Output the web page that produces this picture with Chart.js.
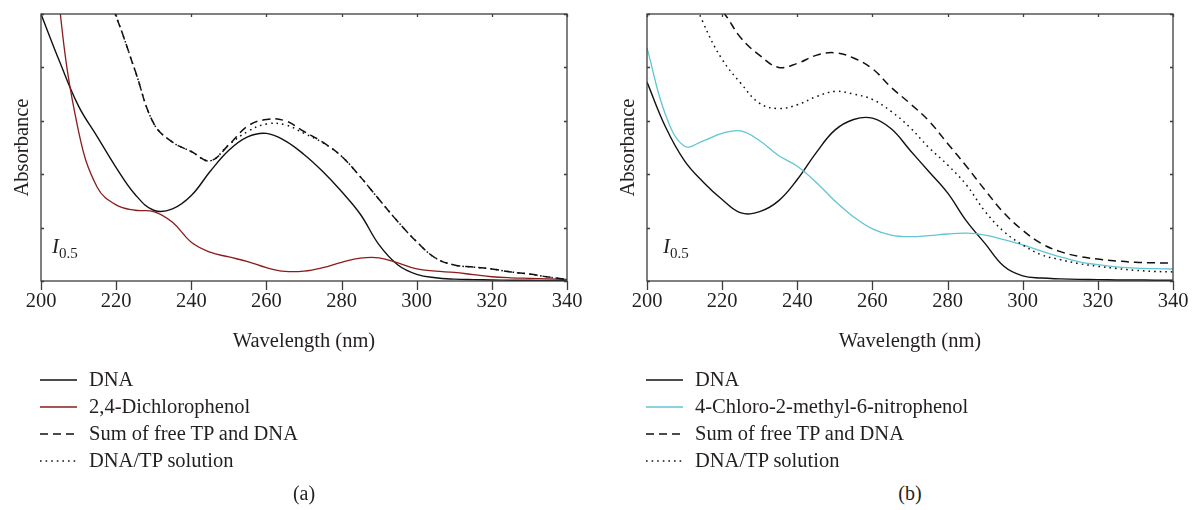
<!DOCTYPE html>
<html>
<head>
<meta charset="utf-8">
<script src="https://cdn.jsdelivr.net/npm/chart.js@4.4.1/dist/chart.umd.min.js"></script>
<style>
  body { margin: 0; background: #fff; width: 1192px; height: 510px; overflow: hidden; position: relative;
         font-family: "Liberation Serif", "DejaVu Serif", serif; color: #231f20; }
  .panel { position: absolute; top: 0; width: 600px; height: 354px; }
  .legend { position: absolute; top: 366px; font-size: 20.5px; }
  .legend .row { height: 27px; display: flex; align-items: center; white-space: nowrap; }
  .legend svg { width: 37px; height: 6px; margin-right: 12px; }
  .cap { position: absolute; top: 482px; font-size: 20px; transform: translateX(-50%); }
  .ilabel { position: absolute; top: 234px; font-size: 21px; font-style: italic; }
  .ilabel sub { font-style: normal; font-size: 15px; }
</style>
</head>
<body>
<div class="panel" style="left:0"><canvas id="chartA" width="600" height="354"></canvas></div>
<div class="panel" style="left:606px"><canvas id="chartB" width="600" height="354"></canvas></div>

<div class="ilabel" style="left:52px"><i>I</i><sub>0.5</sub></div>
<div class="ilabel" style="left:663px"><i>I</i><sub>0.5</sub></div>

<div class="legend" id="legendA" style="left:40px"></div>
<div class="legend" id="legendB" style="left:646px"></div>

<div class="cap" style="left:304px">(a)</div>
<div class="cap" style="left:910px">(b)</div>

<script>
// wavelengths (nm), shared by all curves
const wavelengths = [200, 205, 210, 215, 220, 225, 230, 235, 240, 245, 250, 255, 260, 265, 270,
                     275, 280, 285, 290, 295, 300, 305, 310, 315, 320, 325, 330, 335, 340];

// panel (a): DNA + 2,4-Dichlorophenol
const dnaA = [1.00, 0.82, 0.655, 0.54, 0.425, 0.325, 0.265, 0.27, 0.32, 0.41, 0.49, 0.54, 0.553, 0.525, 0.474,
              0.41, 0.335, 0.25, 0.135, 0.06, 0.025, 0.012, 0.007, 0.005, 0.004, 0.003, 0.003, 0.002, 0.002];
const dcpA = [1.9, 1.02, 0.56, 0.35, 0.285, 0.265, 0.26, 0.22, 0.145, 0.108, 0.09, 0.073, 0.05, 0.036, 0.037,
              0.05, 0.07, 0.086, 0.087, 0.068, 0.045, 0.037, 0.032, 0.024, 0.016, 0.012, 0.01, 0.008, 0.006];
const sumA = [2.6, 1.9, 1.4, 1.15, 0.99, 0.79, 0.59, 0.52, 0.485, 0.45, 0.51, 0.58, 0.605, 0.60, 0.56,
              0.52, 0.467, 0.39, 0.305, 0.222, 0.147, 0.086, 0.06, 0.052, 0.045, 0.034, 0.026, 0.015, 0.006];
const mixA = [2.6, 1.9, 1.4, 1.15, 0.99, 0.79, 0.59, 0.52, 0.485, 0.45, 0.51, 0.56, 0.588, 0.585, 0.553,
              0.518, 0.467, 0.39, 0.305, 0.222, 0.147, 0.086, 0.06, 0.052, 0.045, 0.034, 0.026, 0.015, 0.006];

// panel (b): DNA + 4-Chloro-2-methyl-6-nitrophenol
const dnaB = [0.745, 0.575, 0.45, 0.37, 0.305, 0.255, 0.26, 0.30, 0.38, 0.48, 0.565, 0.605, 0.61, 0.57, 0.49,
              0.41, 0.33, 0.225, 0.14, 0.055, 0.019, 0.011, 0.008, 0.006, 0.005, 0.004, 0.004, 0.003, 0.003];
const cmnpB = [0.873, 0.62, 0.505, 0.525, 0.553, 0.562, 0.525, 0.47, 0.43, 0.37, 0.30, 0.24, 0.195, 0.172, 0.166,
               0.17, 0.176, 0.179, 0.172, 0.155, 0.135, 0.112, 0.09, 0.072, 0.061, 0.053, 0.048, 0.046, 0.045];
const sumB = [1.5, 1.28, 1.14, 1.06, 1.01, 0.91, 0.845, 0.80, 0.815, 0.845, 0.855, 0.835, 0.795, 0.725, 0.665,
              0.60, 0.515, 0.43, 0.34, 0.255, 0.19, 0.14, 0.11, 0.092, 0.082, 0.075, 0.07, 0.068, 0.067];
const mixB = [1.7, 1.4, 1.15, 0.966, 0.83, 0.74, 0.665, 0.646, 0.66, 0.69, 0.71, 0.70, 0.68, 0.635, 0.575,
              0.50, 0.435, 0.36, 0.26, 0.185, 0.135, 0.098, 0.08, 0.065, 0.055, 0.047, 0.04, 0.036, 0.034];

const serif = '"Liberation Serif", "DejaVu Serif", serif';
const textSize = 20.5;
const DASH = [8, 5];
const DOT = [1.6, 4];

// box around the plot + tick marks (bottom outward, others inward)
const framePlugin = {
  id: 'frame',
  afterDraw(chart) {
    const { ctx, chartArea: a, scales: { x, y } } = chart;
    ctx.save();
    ctx.strokeStyle = '#3c3c3c';
    ctx.lineWidth = 1.3;
    ctx.strokeRect(a.left, a.top, a.right - a.left, a.bottom - a.top);
    ctx.beginPath();
    x.ticks.forEach(t => {
      const px = Math.round(x.getPixelForValue(t.value)) + 0.5;
      ctx.moveTo(px, a.bottom); ctx.lineTo(px, a.bottom + 9);
      ctx.moveTo(px, a.top); ctx.lineTo(px, a.top + 3);
    });
    y.ticks.forEach(t => {
      const py = Math.round(y.getPixelForValue(t.value)) + 0.5;
      ctx.moveTo(a.left, py); ctx.lineTo(a.left + 3, py);
      ctx.moveTo(a.right, py); ctx.lineTo(a.right - 3, py);
    });
    ctx.stroke();
    ctx.restore();
  }
};

function makeChart(id, series) {
  return new Chart(document.getElementById(id), {
    type: 'line',
    data: {
      datasets: series.map(s => ({
        label: s.label,
        data: s.values.map((v, i) => ({ x: wavelengths[i], y: v })),
        borderColor: s.color,
        borderWidth: s.width,
        borderDash: s.dash || [],
        pointRadius: 0,
        tension: 0.4,
        fill: false
      }))
    },
    options: {
      responsive: false,
      animation: false,
      devicePixelRatio: 1,
      layout: { padding: { left: 10, top: 14, right: 33, bottom: 0 } },
      plugins: { legend: { display: false }, tooltip: { enabled: false } },
      scales: {
        x: {
          type: 'linear', min: 200, max: 340,
          ticks: { stepSize: 20, padding: 0, color: '#231f20', font: { family: serif, size: textSize } },
          grid: { display: false, drawTicks: true, tickLength: 8 },
          border: { display: false },
          title: { display: true, text: 'Wavelength (nm)', color: '#231f20', padding: 0,
                   font: { family: serif, size: textSize } },
          afterFit: s => { s.height = 73; }
        },
        y: {
          min: 0, max: 1,
          ticks: { display: false, stepSize: 0.2 },
          grid: { display: false },
          border: { display: false },
          title: { display: true, text: 'Absorbance', color: '#231f20', padding: 0,
                   font: { family: serif, size: textSize } },
          afterFit: s => { s.width = 31; }
        }
      }
    },
    plugins: [framePlugin]
  });
}

const seriesA = [
  { label: 'DNA/TP solution', values: mixA, color: '#111', width: 1.5, dash: DOT },
  { label: 'Sum of free TP and DNA', values: sumA, color: '#111', width: 1.5, dash: DASH },
  { label: '2,4-Dichlorophenol', values: dcpA, color: '#8b1c1c', width: 1.3 },
  { label: 'DNA', values: dnaA, color: '#111', width: 1.4 }
];
const seriesB = [
  { label: 'DNA/TP solution', values: mixB, color: '#111', width: 1.5, dash: DOT },
  { label: 'Sum of free TP and DNA', values: sumB, color: '#111', width: 1.5, dash: DASH },
  { label: '4-Chloro-2-methyl-6-nitrophenol', values: cmnpB, color: '#62c4d4', width: 1.3 },
  { label: 'DNA', values: dnaB, color: '#111', width: 1.4 }
];

makeChart('chartA', seriesA);
makeChart('chartB', seriesB);

// legends in the original order
function buildLegend(id, series) {
  const order = ['DNA', series[2].label, 'Sum of free TP and DNA', 'DNA/TP solution'];
  const el = document.getElementById(id);
  order.forEach(name => {
    const s = series.find(d => d.label === name);
    const dash = s.dash ? s.dash.join(' ') : 'none';
    el.insertAdjacentHTML('beforeend',
      `<div class="row"><svg viewBox="0 0 37 6"><line x1="0" y1="3" x2="37" y2="3" stroke="${s.color}"
        stroke-width="1.3" stroke-dasharray="${dash}"/></svg><span>${name}</span></div>`);
  });
}
buildLegend('legendA', seriesA);
buildLegend('legendB', seriesB);
</script>
</body>
</html>
